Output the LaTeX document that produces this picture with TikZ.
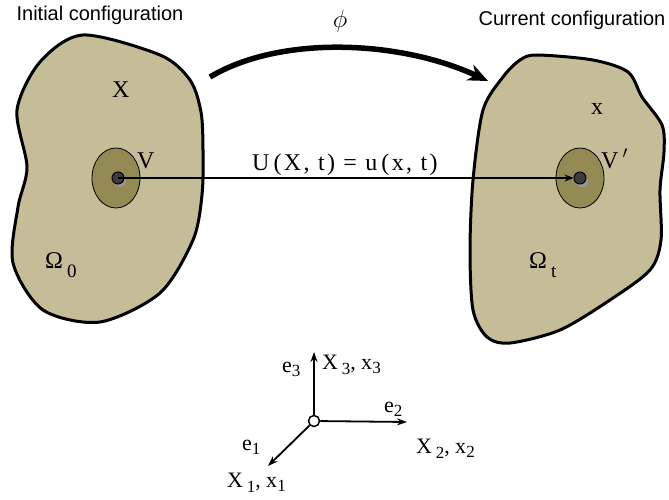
\documentclass[tikz,border=0pt]{standalone}
\usepackage{fontspec}
\setmainfont{Liberation Serif}
\newfontfamily\capfont{Liberation Sans}
\newfontfamily\widefont[LetterSpace=10]{Liberation Serif}
\usepackage{tikz}
\definecolor{bodyTan}{HTML}{C4BD97}
\definecolor{bodyOlive}{HTML}{948A54}
\definecolor{dotInk}{HTML}{3C3C3C}
\usetikzlibrary{arrows.meta,calc}
\newcommand{\lowsub}[3][5pt]{\raisebox{-#1}{\fontsize{#2}{#2}\selectfont #3}}

\begin{document}
\begin{tikzpicture}[x=1pt,y=-1pt,
    body/.style={draw=black, line width=3pt, fill=bodyTan},
    patch/.style={draw=black, line width=0.8pt, fill=bodyOlive},
    dotpt/.style={circle, minimum size=12pt, inner sep=0pt, draw=black, line width=1pt, fill=dotInk},
    lab/.style={font=\fontsize{24}{26}\selectfont, inner sep=0pt, anchor=base west},
    axlab/.style={font=\fontsize{22}{24}\selectfont, inner sep=0pt, anchor=base west},
    ttl/.style={font=\capfont\fontsize{20}{22}\selectfont, inner sep=0pt},
    axis/.style={line width=1.8pt, -{Stealth[length=10pt,width=7pt]}}]
  \useasboundingbox (0,0) rectangle (669,500);

  % the two configurations
  \draw[body] plot[smooth cycle] coordinates {(83,35) (160,55) (190,80) (201,112) (203,150)
    (202,195) (193,240) (160,293) (100,322) (43,310) (13,263) (18,207) (27,167) (17,110) (40,62)};
  \draw[body] plot[smooth cycle] coordinates {(537,55) (593,60) (628,72) (642,97) (662,125)
    (664,152) (660,190) (661,240) (650,270) (610,300) (560,330) (510,343) (487,337)
    (473,310) (470,250) (473,180) (483,110) (503,77) (520,60)};

  \draw[patch] (116,178) ellipse (24 and 30);
  \draw[patch] (580,178) ellipse (24 and 30);

  \fill[black!40] (120,181) circle (6);
  \fill[black!40] (582,181) circle (6);
  \node[dotpt] (p0) at (118,178) {};
  \node[dotpt] (p1) at (580,178) {};

  \draw[line width=1.2pt, -{Stealth[length=9pt,width=7pt]}] (p0.center) -- (p1);

  % labels
  \node[ttl] (tInit) at (100,15) {Initial configuration};
  \node[ttl] (tCurr) at (572,20) {Current configuration};
  \node[lab] (lX) at (112,98) {X};
  \node[lab] (lx) at (591,115) {x};
  \node[lab] (lV) at (137,168) {V};
  \node[lab] (lVp) at (601,168) {V\,$'$};
  \node[lab] (lOm0) at (45,268) {Ω\,\lowsub[9pt]{19}{0}};
  \node[lab] (lOmt) at (529,268) {Ω\,\lowsub[9pt]{19}{t}};
  \node[lab, font=\widefont\fontsize{24}{26}\selectfont] (lU) at (252,170) {U\,(X, t) = u\,(x, t)};

  % the map
  \coordinate (phiA) at (210,77);
  \coordinate (phiB) at (488,81);
  \draw[line width=5.5pt, -{Stealth[length=20pt,width=17pt]}]
    (phiA) .. controls (280,35) and (400,40) .. (phiB);
  \node[font=\fontsize{26}{28}\selectfont] (lphi) at (340,21) {$\phi$};

  % basis
  \node[circle, minimum size=11pt, inner sep=0pt, draw=black, line width=1.5pt, fill=white] (o) at (314,421) {};
  \coordinate (a3) at (314,352);
  \coordinate (a2) at (407,422);
  \coordinate (a1) at (268,466);
  \draw[axis] (o) -- (a3);
  \draw[axis] (o) -- (a2);
  \draw[axis] (o) -- (a1);
  \node[axlab] (le3) at (282,372) {e\lowsub[4pt]{17}{3}};
  \node[axlab] (lX3) at (322,369) {X\,\lowsub{17}{3}, x\lowsub[4pt]{17}{3}};
  \node[axlab] (le2) at (384,412) {e\lowsub[4pt]{17}{2}};
  \node[axlab] (lX2) at (416,453) {X\,\lowsub{17}{2}, x\lowsub[4pt]{17}{2}};
  \node[axlab] (le1) at (242,450) {e\lowsub[4pt]{17}{1}};
  \node[axlab] (lX1) at (227,487) {X\,\lowsub{17}{1}, x\lowsub[4pt]{17}{1}};
\end{tikzpicture}
\end{document}
